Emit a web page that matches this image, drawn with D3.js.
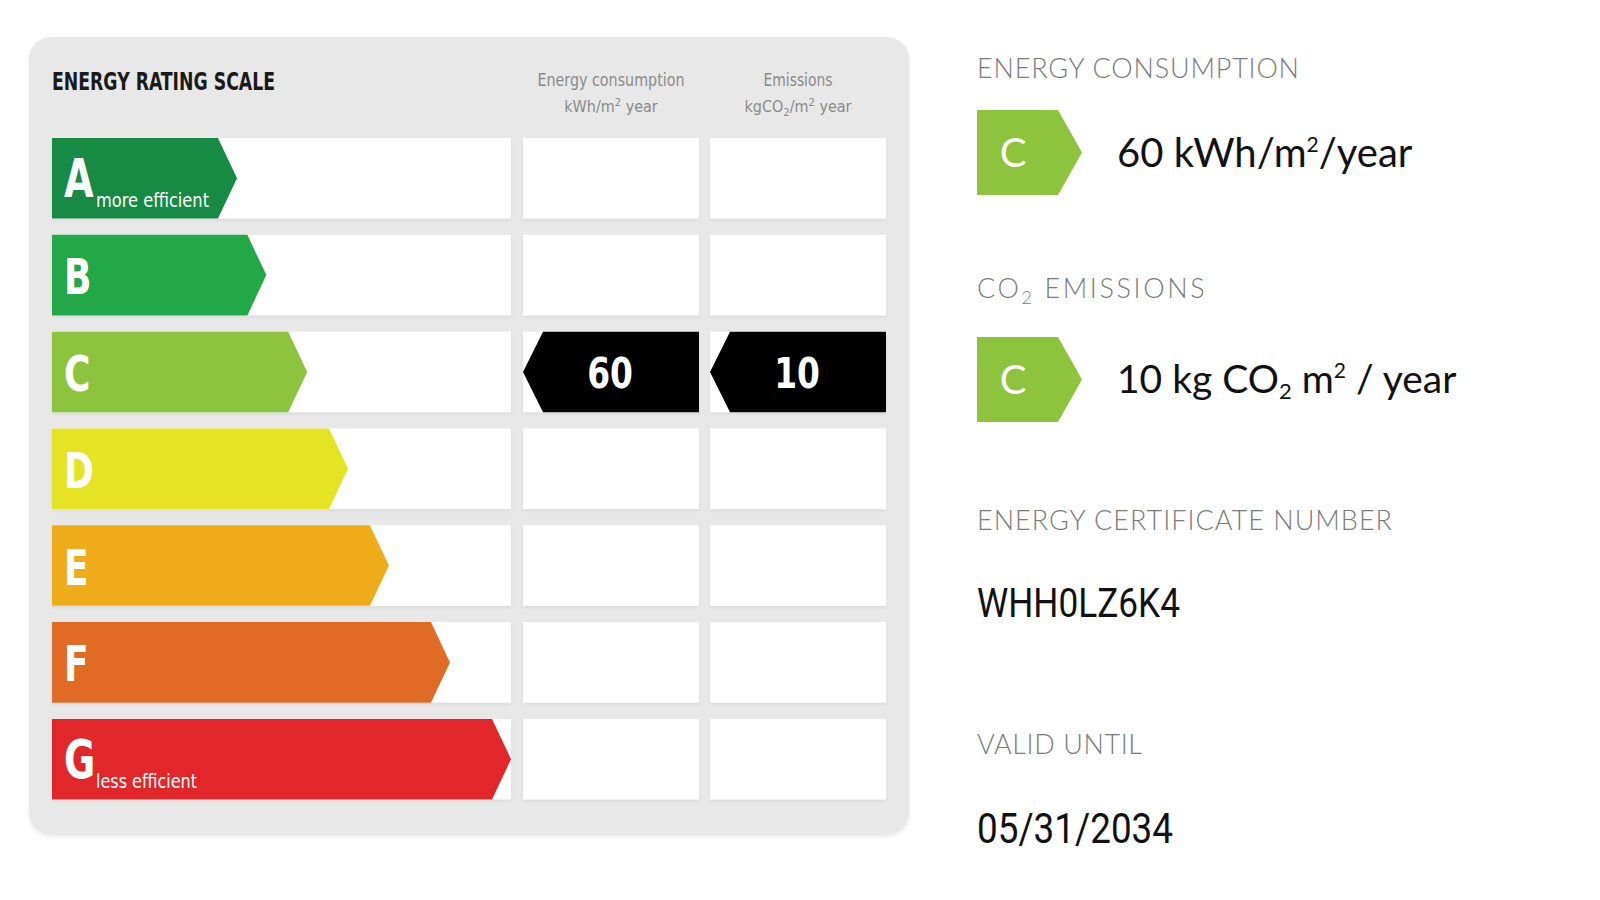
<!DOCTYPE html>
<html>
<head>
<meta charset="utf-8">
<script src="https://cdn.jsdelivr.net/npm/d3@7"></script>
<style>
  html, body { margin: 0; padding: 0; background: #ffffff; }
  svg { display: block; }
</style>
</head>
<body>
<svg id="chart" width="1600" height="900"></svg>
<script>
// ---------------- DATA ----------------
const ratingClasses = ["A", "B", "C", "D", "E", "F", "G"];
const ratingColors = ["#178a45", "#22a846", "#8dc33d", "#e5e424", "#eeac1b", "#df6b25", "#e1272a"];
// relative arrow length of each class (G = 100)
const ratingLengths = [40.3, 46.7, 55.6, 64.5, 73.4, 86.7, 100];
const ratingSubLabels = ["more efficient", "", "", "", "", "", "less efficient"];

const scaleTitle = "ENERGY RATING SCALE";
const columnHeaders = [
  { line1: "Energy consumption", line2: ["kWh/m", "2", " year"] },
  { line1: "Emissions", line2: ["kgCO", "2", "/m", "2", " year"] }
];

const energyRating = "C";
const energyValue = 60;
const emissionsRating = "C";
const emissionsValue = 10;

const certificateNumber = "WHH0LZ6K4";
const validUntil = "05/31/2034";

// ---------------- LAYOUT ----------------
const svg = d3.select("#chart");

const panel = { x: 29, y: 37, w: 880, h: 798, r: 22 };
const rowLeft = 52, rowRight = 511;
const energyCol = [523, 699];
const emisCol = [710, 886];

const y = d3.scaleBand()
  .domain(ratingClasses)
  .range([138, 799.5])
  .paddingInner(0.168)
  .paddingOuter(0);

const xLen = d3.scaleLinear().domain([0, 100]).range([rowLeft, rowRight]);
const colorOf = d3.scaleOrdinal().domain(ratingClasses).range(ratingColors);

const narrow = "'Liberation Sans Narrow', 'DejaVu Sans Condensed', 'Arial Narrow', sans-serif";
const geo = "Lato, 'Open Sans', 'Noto Sans', sans-serif";

// panel
const defs = svg.append("defs");
const sh = defs.append("filter").attr("id", "psh").attr("x", "-5%").attr("y", "-5%").attr("width", "110%").attr("height", "110%");
sh.append("feDropShadow").attr("dx", 0).attr("dy", 2).attr("stdDeviation", 2).attr("flood-color", "#000").attr("flood-opacity", 0.08);

svg.append("rect")
  .attr("x", panel.x).attr("y", panel.y)
  .attr("width", panel.w).attr("height", panel.h)
  .attr("rx", panel.r).attr("ry", panel.r)
  .attr("fill", "#e8e8e8")
  .attr("filter", "url(#psh)");

// title
svg.append("text")
  .attr("x", rowLeft).attr("y", 90)
  .attr("font-family", narrow).attr("font-weight", 700)
  .attr("font-size", 25).attr("fill", "#1a1a1a")
  .attr("textLength", 223).attr("lengthAdjust", "spacingAndGlyphs")
  .text(scaleTitle);

// column headers
const headerCols = [energyCol, emisCol];
const line1Len = [147, 69];
columnHeaders.forEach((h, i) => {
  const cx = (headerCols[i][0] + headerCols[i][1]) / 2;
  svg.append("text")
    .attr("x", cx).attr("y", 86)
    .attr("text-anchor", "middle")
    .attr("font-family", narrow).attr("font-size", 17)
    .attr("fill", "#8a8a8a")
    .attr("textLength", line1Len[i]).attr("lengthAdjust", "spacingAndGlyphs")
    .text(h.line1);
  const t = svg.append("text")
    .attr("x", cx).attr("y", 112)
    .attr("text-anchor", "middle")
    .attr("font-family", narrow).attr("font-size", 16)
    .attr("fill", "#8a8a8a");
  if (i === 0) {
    t.append("tspan").text(h.line2[0]);
    t.append("tspan").attr("dy", -6).attr("font-size", 11).text(h.line2[1]);
    t.append("tspan").attr("dy", 6).text(h.line2[2]);
  } else {
    t.append("tspan").text(h.line2[0]);
    t.append("tspan").attr("dy", 4).attr("font-size", 11).text(h.line2[1]);
    t.append("tspan").attr("dy", -4).text(h.line2[2]);
    t.append("tspan").attr("dy", -6).attr("font-size", 11).text(h.line2[3]);
    t.append("tspan").attr("dy", 6).text(h.line2[4]);
  }
});

// white cells
const cellFilter = defs.append("filter").attr("id", "csh").attr("x", "-2%").attr("y", "-5%").attr("width", "104%").attr("height", "115%");
cellFilter.append("feDropShadow").attr("dx", 0).attr("dy", 2).attr("stdDeviation", 1.5).attr("flood-color", "#000").attr("flood-opacity", 0.06);

const rows = svg.append("g").selectAll("g.row")
  .data(ratingClasses.map((c, i) => ({ c, len: ratingLengths[i], sub: ratingSubLabels[i] })))
  .join("g").attr("class", "row");

[[rowLeft, rowRight], energyCol, emisCol].forEach(col => {
  rows.append("rect")
    .attr("x", col[0]).attr("y", d => y(d.c))
    .attr("width", col[1] - col[0]).attr("height", y.bandwidth())
    .attr("fill", "#ffffff")
    .attr("filter", "url(#csh)");
});

// rating arrows
const tipW = 19;
rows.append("path")
  .attr("d", d => {
    const y0 = y(d.c), y1 = y0 + y.bandwidth(), ym = (y0 + y1) / 2;
    const tip = xLen(d.len);
    return `M${rowLeft},${y0}H${tip - tipW}L${tip},${ym}L${tip - tipW},${y1}H${rowLeft}Z`;
  })
  .attr("fill", d => colorOf(d.c));

rows.append("text")
  .attr("transform", d => `translate(64,${y(d.c) + y.bandwidth() / 2 + 19}) scale(0.8,1)`)
  .attr("font-family", narrow).attr("font-weight", 700)
  .attr("font-size", d => (d.c === "A" || d.c === "G") ? 53 : 50)
  .attr("fill", "#ffffff")
  .text(d => d.c);

rows.filter(d => d.sub)
  .append("text")
  .attr("x", 96)
  .attr("y", d => y(d.c) + y.bandwidth() / 2 + 29)
  .attr("font-family", narrow).attr("font-size", 20)
  .attr("fill", "#ffffff")
  .attr("textLength", d => d.c === "A" ? 113 : 101)
  .attr("lengthAdjust", "spacingAndGlyphs")
  .text(d => d.sub);

// value markers (black arrows)
function valueMarker(col, rating, value) {
  const y0 = y(rating), y1 = y0 + y.bandwidth(), ym = (y0 + y1) / 2;
  const g = svg.append("g");
  g.append("path")
    .attr("d", `M${col[0]},${ym}L${col[0] + 20},${y0}H${col[1]}V${y1}H${col[0] + 20}Z`)
    .attr("fill", "#000000");
  g.append("text")
    .attr("transform", `translate(${(col[0] + col[1]) / 2 - 1},${ym + 16}) scale(0.85,1)`)
    .attr("text-anchor", "middle")
    .attr("font-family", narrow).attr("font-weight", 700)
    .attr("font-size", 43).attr("fill", "#ffffff")
    .text(value);
}
valueMarker(energyCol, energyRating, energyValue);
valueMarker(emisCol, emissionsRating, emissionsValue);

// ---------------- RIGHT SIDE ----------------
const rx = 977;
const labelColor = "#7b7b7b";

function label(text, yb, len) {
  return svg.append("text")
    .attr("x", rx).attr("y", yb)
    .attr("font-family", geo).attr("font-size", 27).attr("font-weight", 300)
    .attr("fill", labelColor)
    .attr("textLength", len).attr("lengthAdjust", "spacing")
    .text(text);
}

function badge(rating, y0) {
  const h = 85, body = 81, tip = 24;
  svg.append("path")
    .attr("d", `M${rx},${y0}H${rx + body}L${rx + body + tip},${y0 + h / 2}L${rx + body},${y0 + h}H${rx}Z`)
    .attr("fill", colorOf(rating));
  svg.append("text")
    .attr("x", rx + 36).attr("y", y0 + h / 2 + 14)
    .attr("text-anchor", "middle")
    .attr("font-family", geo).attr("font-size", 40)
    .attr("fill", "#ffffff")
    .text(rating);
}

label("ENERGY CONSUMPTION", 78, 322);
badge(energyRating, 110);
{
  const t = svg.append("text")
    .attr("x", 1117).attr("y", 167)
    .attr("font-family", geo).attr("font-size", 40)
    .attr("fill", "#111111");
  t.append("tspan").text(`${energyValue} kWh/m`);
  t.append("tspan").attr("dy", -15).attr("font-size", 21).text("2");
  t.append("tspan").attr("dy", 15).text("/year");
}

{
  const t = svg.append("text")
    .attr("x", rx).attr("y", 298)
    .attr("font-family", geo).attr("font-size", 27).attr("font-weight", 300)
    .attr("fill", labelColor).attr("letter-spacing", 2.6);
  t.append("tspan").text("CO");
  t.append("tspan").attr("dy", 6).attr("font-size", 18).text("2");
  t.append("tspan").attr("dy", -6).text(" EMISSIONS");
}
badge(emissionsRating, 337);
{
  const t = svg.append("text")
    .attr("x", 1117).attr("y", 393)
    .attr("font-family", geo).attr("font-size", 39)
    .attr("fill", "#111111");
  t.append("tspan").text(`${emissionsValue} kg CO`);
  t.append("tspan").attr("dy", 6).attr("font-size", 22).text("2");
  t.append("tspan").attr("dy", -6).text(" m");
  t.append("tspan").attr("dy", -15).attr("font-size", 21).text("2");
  t.append("tspan").attr("dy", 15).text(" / year");
}

label("ENERGY CERTIFICATE NUMBER", 530, 415);
svg.append("text")
  .attr("x", rx).attr("y", 617)
  .attr("font-family", "Roboto, 'Noto Sans', sans-serif").attr("font-size", 41)
  .attr("fill", "#111111")
  .attr("textLength", 203).attr("lengthAdjust", "spacingAndGlyphs")
  .text(certificateNumber);

label("VALID UNTIL", 754, 165);
svg.append("text")
  .attr("x", rx).attr("y", 843)
  .attr("font-family", "Roboto, 'Noto Sans', sans-serif").attr("font-size", 42)
  .attr("fill", "#111111")
  .attr("textLength", 196).attr("lengthAdjust", "spacingAndGlyphs")
  .text(validUntil);
</script>
</body>
</html>
